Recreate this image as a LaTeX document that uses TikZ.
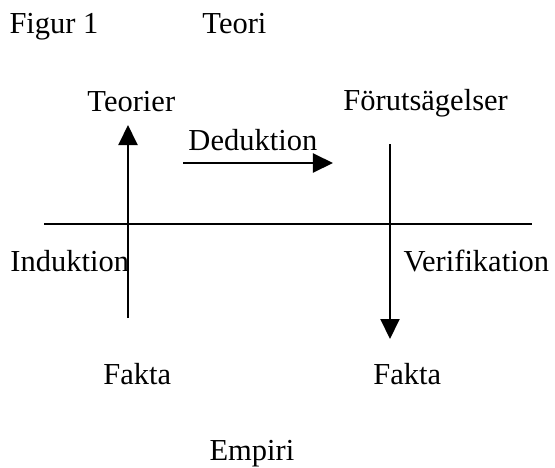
\documentclass[tikz,border=0pt]{standalone}
\usepackage{fontspec}
\setmainfont{Liberation Serif}
\usetikzlibrary{arrows.meta}
\begin{document}
\begin{tikzpicture}[x=0.4pt, y=-0.4pt,
  word/.style={font=\fontsize{12.2}{14}\selectfont, inner sep=0pt, anchor=base west},
  arr/.style={line width=0.8pt, -{Triangle[length=8pt, width=7.6pt]}}]
  \useasboundingbox (0,0) rectangle (555,468);

  %% Headings
  \node[word] (figur) at (9,33) {Figur 1};
  \node[word] (teori) at (202,33) {Teori};

  %% Upper labels
  \node[word] (teorier) at (87,111) {Teorier};
  \node[word] (forut) at (343,110) {Förutsägelser};
  \node[word] (dedu) at (188,150) {Deduktion};

  %% Middle labels
  \node[word] (indu) at (10,271) {Induktion};
  \node[word] (veri) at (403,271) {Verifikation};

  %% Lower labels
  \node[word] (fakta1) at (103,384) {Fakta};
  \node[word] (fakta2) at (373,384) {Fakta};
  \node[word] (empiri) at (209,460) {Empiri};

  %% Dividing line
  \coordinate (lineL) at (44,224);
  \coordinate (lineR) at (532,224);
  \draw[line width=0.8pt] (lineL) -- (lineR);

  %% Arrows
  \coordinate (induBot) at (128,318);
  \coordinate (induTop) at (128,125);
  \draw[arr] (induBot) -- (induTop);
  \coordinate (deduL) at (183,163);
  \coordinate (deduR) at (333,163);
  \draw[arr] (deduL) -- (deduR);
  \coordinate (veriTop) at (390,144);
  \coordinate (veriBot) at (390,339);
  \draw[arr] (veriTop) -- (veriBot);
\end{tikzpicture}
\end{document}
